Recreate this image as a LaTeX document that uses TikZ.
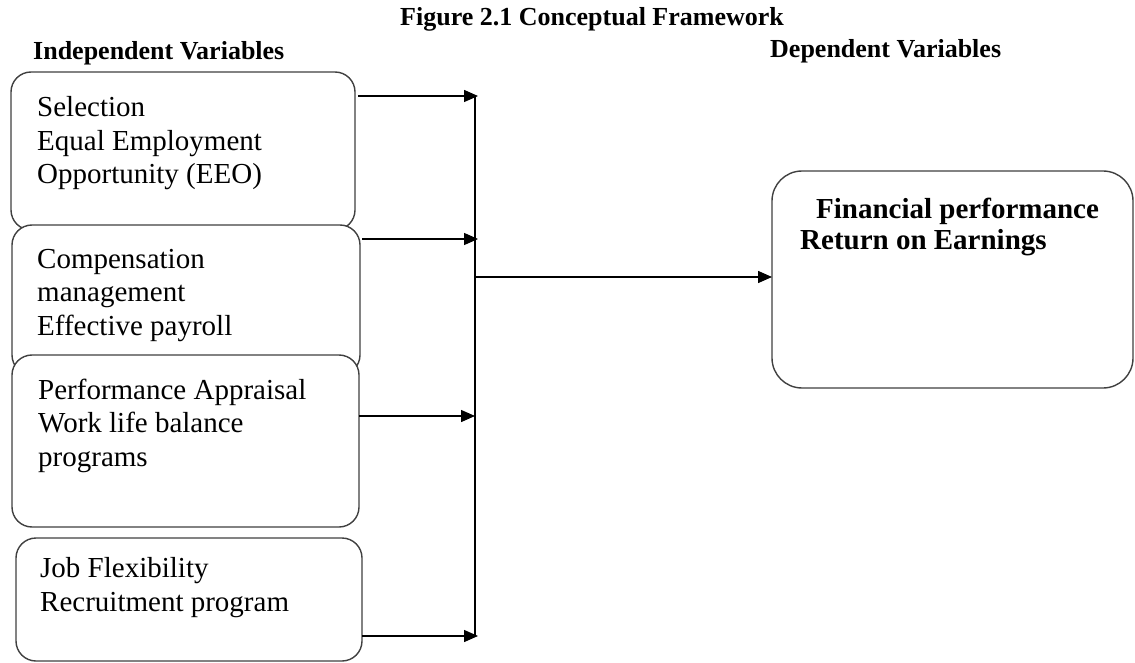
\documentclass[tikz,border=0pt]{standalone}
\usepackage{fontspec}
\setmainfont{Liberation Serif}
\usetikzlibrary{arrows.meta}
\begin{document}
\begin{tikzpicture}[x=1pt,y=-1pt,
  vbox/.style={draw=black!75, line width=1.4pt, rounded corners=20pt, fill=white, anchor=north west, inner sep=0pt, outer sep=0pt},
  vtext/.style={anchor=base west, align=left, inner sep=0pt, font=\fontsize{29pt}{33.5pt}\selectfont},
  head/.style={anchor=base west, inner sep=0pt, font=\fontsize{26pt}{30pt}\selectfont\bfseries},
  arr/.style={line width=1.4pt, -{Triangle[length=14pt,width=12pt]}},
  ln/.style={line width=1.4pt}]
\useasboundingbox (0,0) rectangle (1135,663);
% headings
\node[head] (title) at (400,26) {Figure 2.1 Conceptual Framework};
\node[head] (indep) at (33,60) {Independent Variables};
\node[head] (dep) at (770,58) {Dependent Variables};
% boxes
\node[vbox, minimum width=344pt, minimum height=158pt] (b1) at (11,72) {};
\node[vbox, minimum width=348pt, minimum height=150pt] (b2) at (12,225) {};
\node[vbox, minimum width=347pt, minimum height=172pt] (b3) at (12,355) {};
\node[vbox, minimum width=346pt, minimum height=123pt] (b4) at (16,538) {};
\node[vbox, rounded corners=30pt, minimum width=361pt, minimum height=217pt] (out) at (772,171) {};
% texts (anchor = baseline of last line)
\node[vtext] (t1) at (37,184) {Selection\\Equal Employment\\Opportunity (EEO)};
\node[vtext] (t2) at (37,335) {Compensation\\management\\Effective payroll};
\node[vtext] (t3) at (38,466) {Performance Appraisal\\Work life balance\\programs};
\node[vtext] (t4) at (40,611) {Job Flexibility\\Recruitment program};
\node[vtext, font=\fontsize{29pt}{31pt}\selectfont\bfseries] (t5) at (800,249) {\hspace*{16pt}Financial performance\\Return on Earnings};
% connectors
\coordinate (j1) at (475,96);
\coordinate (j2) at (475,239);
\coordinate (j3) at (475,416);
\coordinate (j4) at (475,636);
\coordinate (jm) at (475,277);
\draw[ln] (j1) -- (j4);
\draw[arr] ([xshift=3pt]b1.east |- j1) -- ([xshift=3pt]j1);
\draw[arr] ([xshift=2pt]b2.east |- j2) -- ([xshift=3pt]j2);
\draw[arr] (b3.east |- j3) -- (j3);
\draw[arr] (b4.east |- j4) -- ([xshift=3pt]j4);
\draw[arr] (jm) -- (out.west |- jm);
\end{tikzpicture}
\end{document}
